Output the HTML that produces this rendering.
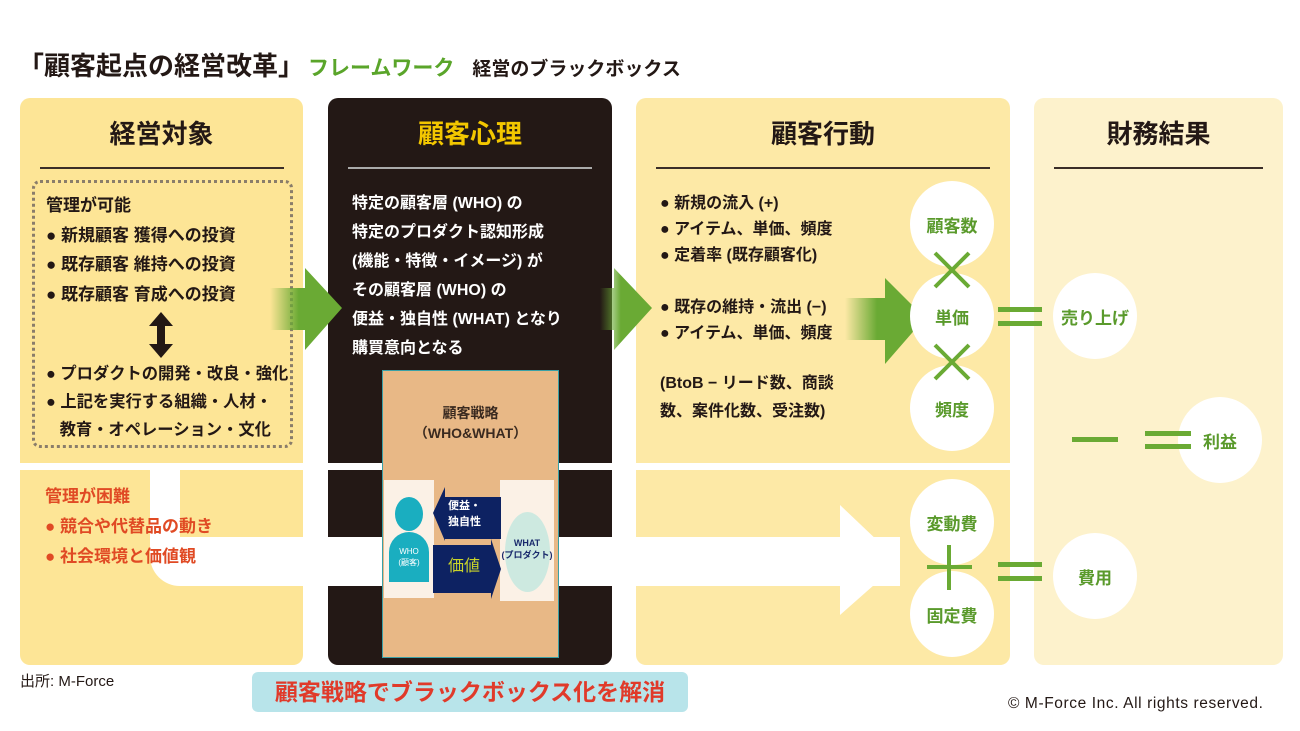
<!DOCTYPE html>
<html><head><meta charset="utf-8"><style>
*{margin:0;padding:0;box-sizing:border-box}
body{width:1300px;height:731px;background:#fff;position:relative;overflow:hidden;font-family:"Liberation Sans","Noto Sans CJK JP",sans-serif;color:#231815}
.a{position:absolute}
.t{font-weight:bold;white-space:nowrap}
.circ{position:absolute;width:84px;height:86px;border-radius:50%;background:#fff;color:#5a9a2c;font-weight:bold;font-size:17px;display:flex;align-items:center;justify-content:center}
.g{position:absolute;background:#6aaa34}
</style></head><body>
<div class="a t" style="left:18px;top:50px;font-size:26px;line-height:32px">「顧客起点の経営改革」<span style="color:#5aa52a;font-size:21px;margin-left:4px">フレームワーク</span><span style="font-size:19px;margin-left:18px">経営のブラックボックス</span></div>

<div class="a" style="left:20px;top:98px;width:283px;height:567px;background:#fde596;border-radius:10px"></div>
<div class="a" style="left:328px;top:98px;width:284px;height:567px;background:#231815;border-radius:10px"></div>
<div class="a" style="left:636px;top:98px;width:374px;height:567px;background:#fde9a6;border-radius:10px"></div>
<div class="a" style="left:1034px;top:98px;width:249px;height:567px;background:#fdf2cc;border-radius:10px"></div>
<div class="a" style="left:0;top:463px;width:1012px;height:7px;background:#fff"></div>
<div class="a" style="left:180px;top:537px;width:720px;height:49px;background:#fff"></div>
<div class="a" style="left:150px;top:470px;width:30px;height:116px;background:#fff;border-bottom-left-radius:30px"></div>
<svg class="a" style="left:830px;top:500px" width="75" height="120"><polygon points="10,5 70,62 10,115" fill="#fff"/></svg>

<div class="a t" style="left:20px;top:114px;width:283px;text-align:center;font-size:26px">経営対象</div>
<div class="a" style="left:40px;top:167px;width:244px;height:2px;background:#3a2e28"></div>
<div class="a" style="left:32px;top:180px;width:261px;height:268px;border:3px dotted #8a7d6a;border-radius:8px"></div>
<div class="a t" style="left:46px;top:191px;font-size:17px;line-height:29.5px">管理が可能<br>● 新規顧客 獲得への投資<br>● 既存顧客 維持への投資<br>● 既存顧客 育成への投資</div>
<svg class="a" style="left:146px;top:312px" width="30" height="46"><polygon points="15,0 27,14 19,14 19,32 27,32 15,46 3,32 11,32 11,14 3,14" fill="#231815"/></svg>
<div class="a t" style="left:46px;top:360px;font-size:16.3px;line-height:28px">● プロダクトの開発・改良・強化<br>● 上記を実行する組織・人材・<br>&nbsp;&nbsp;&nbsp;教育・オペレーション・文化</div>
<div class="a t" style="left:45px;top:482px;font-size:17px;line-height:30px;color:#e04a24">管理が困難<br>● 競合や代替品の動き<br>● 社会環境と価値観</div>

<div class="a t" style="left:328px;top:114px;width:284px;text-align:center;font-size:26px;color:#f3c700">顧客心理</div>
<div class="a" style="left:348px;top:167px;width:244px;height:2px;background:#aaa"></div>
<div class="a t" style="left:352px;top:189px;font-size:16px;line-height:29px;color:#fff">特定の顧客層 (WHO) の<br>特定のプロダクト認知形成<br>(機能・特徴・イメージ) が<br>その顧客層 (WHO) の<br>便益・独自性 (WHAT) となり<br>購買意向となる</div>
<div class="a" style="left:382px;top:370px;width:177px;height:288px;background:#e8b886;border:1px solid #3aa0a6"></div>
<div class="a t" style="left:382px;top:403px;width:177px;text-align:center;font-size:14px;line-height:20px;color:#3a2a20">顧客戦略<br>（WHO&amp;WHAT）</div>
<div class="a" style="left:384px;top:480px;width:50px;height:118px;background:#fbf1e6"></div>
<div class="a" style="left:500px;top:480px;width:54px;height:121px;background:#fbf1e6"></div>
<div class="a" style="left:395px;top:497px;width:28px;height:34px;border-radius:50%;background:#1aaec0"></div>
<div class="a" style="left:389px;top:532px;width:40px;height:50px;border-radius:20px 20px 0 0;background:#1aaec0"></div>
<div class="a" style="left:389px;top:546px;width:40px;text-align:center;color:#fff;font-size:8px;line-height:11px">WHO<br>(顧客)</div>
<div class="a" style="left:505px;top:512px;width:45px;height:80px;border-radius:50%;background:#cde9e0"></div>
<div class="a t" style="left:500px;top:537px;width:54px;text-align:center;font-size:9px;line-height:12px;color:#1a2a6c">WHAT<br>(プロダクト)</div>
<svg class="a" style="left:425px;top:483px" width="80" height="120">
<polygon points="8,30 20,4 20,14 76,14 76,56 20,56 20,58" fill="#0d2262"/>
<polygon points="8,62 66,62 66,56 76,86 66,116 66,110 8,110" fill="#0d2262"/>
</svg>
<div class="a t" style="left:448px;top:498px;font-size:11px;line-height:16px;color:#fff">便益・<br>独自性</div>
<div class="a" style="left:448px;top:552px;font-size:16px;color:#c9d32a">価値</div>

<svg class="a" style="left:270px;top:268px" width="75" height="96"><defs><linearGradient id="gg" x1="0" x2="1"><stop offset="0" stop-color="#6aaa34" stop-opacity="0"/><stop offset="0.4" stop-color="#6aaa34"/></linearGradient></defs><polygon points="0,20 35,20 35,0 72,40 35,82 35,62 0,62" fill="url(#gg)"/></svg>
<svg class="a" style="left:600px;top:268px" width="75" height="96"><polygon points="0,20 14,20 14,0 52,40 14,82 14,62 0,62" fill="url(#gg)"/></svg>
<svg class="a" style="left:845px;top:278px" width="85" height="96"><polygon points="0,20 40,20 40,0 80,40 40,86 40,62 0,62" fill="url(#gg)"/></svg>

<div class="a t" style="left:636px;top:114px;width:374px;text-align:center;font-size:26px">顧客行動</div>
<div class="a" style="left:656px;top:167px;width:334px;height:2px;background:#3a2e28"></div>
<div class="a t" style="left:660px;top:191px;font-size:16px;line-height:26px">● 新規の流入 (+)<br>● アイテム、単価、頻度<br>● 定着率 (既存顧客化)</div>
<div class="a t" style="left:660px;top:295px;font-size:16px;line-height:26px">● 既存の維持・流出 (−)<br>● アイテム、単価、頻度</div>
<div class="a t" style="left:660px;top:370px;font-size:16px;line-height:28px">(BtoB − リード数、商談<br>数、案件化数、受注数)</div>

<div class="circ" style="left:910px;top:181px">顧客数</div>
<div class="circ" style="left:910px;top:273px">単価</div>
<div class="circ" style="left:910px;top:365px">頻度</div>
<div class="circ" style="left:910px;top:479px">変動費</div>
<div class="circ" style="left:910px;top:571px">固定費</div>
<div class="circ" style="left:1053px;top:273px">売り上げ</div>
<div class="circ" style="left:1178px;top:397px">利益</div>
<div class="circ" style="left:1053px;top:533px">費用</div>
<svg class="a" style="left:932px;top:250px" width="40" height="40"><path d="M3,3L37,37M37,3L3,37" stroke="#6aaa34" stroke-width="4"/></svg>
<svg class="a" style="left:932px;top:342px" width="40" height="40"><path d="M3,3L37,37M37,3L3,37" stroke="#6aaa34" stroke-width="4"/></svg>
<div class="g" style="left:927px;top:565px;width:45px;height:4px"></div>
<div class="g" style="left:947px;top:545px;width:4px;height:45px"></div>
<div class="g" style="left:998px;top:307px;width:44px;height:5px"></div>
<div class="g" style="left:998px;top:321px;width:44px;height:5px"></div>
<div class="g" style="left:998px;top:562px;width:44px;height:5px"></div>
<div class="g" style="left:998px;top:576px;width:44px;height:5px"></div>
<div class="g" style="left:1072px;top:437px;width:46px;height:5px"></div>
<div class="g" style="left:1145px;top:431px;width:46px;height:5px"></div>
<div class="g" style="left:1145px;top:444px;width:46px;height:5px"></div>

<div class="a t" style="left:1034px;top:114px;width:249px;text-align:center;font-size:26px">財務結果</div>
<div class="a" style="left:1054px;top:167px;width:209px;height:2px;background:#3a2e28"></div>

<div class="a" style="left:20px;top:670px;font-size:15px">出所: M-Force</div>
<div class="a" style="left:252px;top:672px;width:436px;height:40px;background:#b8e4ea;border-radius:6px;color:#e03a2a;font-size:23px;line-height:40px;text-align:center;font-weight:bold;white-space:nowrap">顧客戦略でブラックボックス化を解消</div>
<div class="a" style="left:1008px;top:695px;font-size:15.5px;letter-spacing:0.6px;white-space:nowrap">© M-Force Inc. All rights reserved.</div>
</body></html>
